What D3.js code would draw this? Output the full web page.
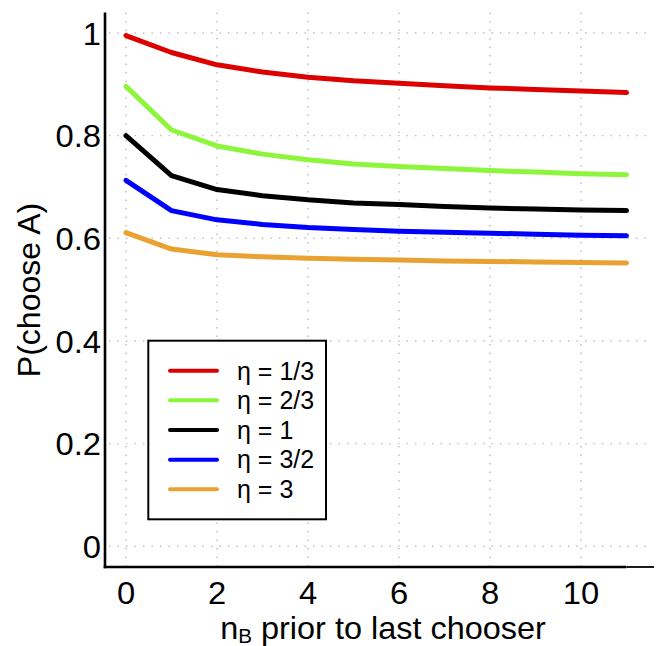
<!DOCTYPE html>
<html>
<head>
<meta charset="utf-8">
<script src="https://cdn.jsdelivr.net/npm/d3@7"></script>
<style>
  html, body { margin: 0; padding: 0; background: #fff; }
  svg { display: block; }
  text { font-family: "Liberation Sans", Arial, Helvetica, sans-serif; fill: #000; }
</style>
</head>
<body>
<svg id="chart" width="658" height="646"></svg>
<script>
// Number of B choices observed before the last chooser
const nB = [0, 1, 2, 3, 4, 5, 6, 7, 8, 9, 10, 11];

// P(choose A) for each noise level eta
const pEta13 = [0.995, 0.962, 0.938, 0.924, 0.914, 0.907, 0.902, 0.897, 0.893, 0.890, 0.887, 0.884];
const pEta23 = [0.896, 0.811, 0.780, 0.764, 0.753, 0.745, 0.740, 0.736, 0.732, 0.729, 0.726, 0.724];
const pEta1  = [0.800, 0.722, 0.695, 0.683, 0.675, 0.669, 0.666, 0.662, 0.659, 0.657, 0.655, 0.654];
const pEta32 = [0.713, 0.654, 0.636, 0.627, 0.621, 0.617, 0.614, 0.612, 0.610, 0.608, 0.606, 0.605];
const pEta3  = [0.611, 0.579, 0.568, 0.564, 0.561, 0.559, 0.558, 0.556, 0.555, 0.554, 0.553, 0.552];

const seriesLabels = ["η = 1/3", "η = 2/3", "η = 1", "η = 3/2", "η = 3"];
const seriesColors = ["#dd0000", "#8cf53c", "#000000", "#0000ff", "#e9a232"];
const seriesValues = [pEta13, pEta23, pEta1, pEta32, pEta3];

const xTicks = [0, 2, 4, 6, 8, 10];
const yTicks = [0, 0.2, 0.4, 0.6, 0.8, 1];

const svg = d3.select("#chart");

const x = d3.scaleLinear().domain([0, 11]).range([126, 626.5]);
const y = d3.scaleLinear().domain([0, 1]).range([546.3, 33]);

const xMin = x.invert(105), xGridMax = x.invert(651);
const yMin = y.invert(567), yMax = y.invert(12.5);

// helper: text with optional horizontal widening
function wideText(sel, px, py, str, size, sx, anchor) {
  return sel.append("text")
    .attr("transform", `translate(${px},${py}) scale(${sx},1)`)
    .attr("font-size", size)
    .attr("text-anchor", anchor)
    .text(str);
}

// dotted grid
const grid = svg.append("g")
  .attr("stroke", "#bdbdbd").attr("stroke-width", 1.4)
  .attr("stroke-dasharray", "1.4,7.1").attr("fill", "none");
grid.selectAll("line.h").data(yTicks).join("line").attr("class", "h")
  .attr("x1", x(xMin) + 4).attr("x2", x(xGridMax))
  .attr("y1", d => y(d)).attr("y2", d => y(d));
grid.selectAll("line.v").data(xTicks).join("line").attr("class", "v")
  .attr("x1", d => x(d)).attr("x2", d => x(d))
  .attr("y1", y(yMax)).attr("y2", y(yMin));

// axes lines
svg.append("line").attr("x1", x(xMin)).attr("x2", x(xMin))
  .attr("y1", y(yMax)).attr("y2", y(yMin) + 1.2)
  .attr("stroke", "#000").attr("stroke-width", 2.6);
svg.append("line").attr("x1", x(xMin) - 1.3).attr("x2", x(11))
  .attr("y1", y(yMin)).attr("y2", y(yMin))
  .attr("stroke", "#000").attr("stroke-width", 2.6);
svg.append("line").attr("x1", x(11)).attr("x2", x(xGridMax) + 3)
  .attr("y1", y(yMin)).attr("y2", y(yMin))
  .attr("stroke", "#000").attr("stroke-width", 1.8);

// tick labels
const xtl = svg.append("g");
xTicks.forEach(t => wideText(xtl, x(t), 604, d3.format("d")(t), 31.5, 1.04, "middle"));
const ytl = svg.append("g");
yTicks.forEach(t => wideText(ytl, 101, y(t) + 11.6, t === 0 || t === 1 ? String(t) : d3.format(".1f")(t), 31.5, 1.04, "end"));

// axis titles
const xl = svg.append("text")
  .attr("transform", "translate(383,639) scale(1.03,1)")
  .attr("font-size", 31.5).attr("text-anchor", "middle");
xl.append("tspan").text("n");
xl.append("tspan").attr("font-size", 20).attr("dy", 4).text("B");
xl.append("tspan").attr("dy", -4).text(" prior to last chooser");

svg.append("text")
  .attr("transform", "translate(40,290) rotate(-90)")
  .attr("font-size", 32).attr("text-anchor", "middle")
  .text("P(choose A)");

// series lines
const line = d3.line().x((d, i) => x(nB[i])).y(d => y(d));
svg.append("g").selectAll("path").data(seriesValues).join("path")
  .attr("d", d => line(d))
  .attr("fill", "none")
  .attr("stroke", (d, i) => seriesColors[i])
  .attr("stroke-width", 5)
  .attr("stroke-linecap", "round").attr("stroke-linejoin", "round");

// legend
const lg = svg.append("g");
lg.append("rect").attr("x", 148.3).attr("y", 340.7).attr("width", 177.7).attr("height", 178.6)
  .attr("fill", "#fff").attr("stroke", "#000").attr("stroke-width", 2);
const legY = d3.scalePoint().domain(seriesLabels).range([370.7, 489.3]);
seriesLabels.forEach((lab, i) => {
  lg.append("line").attr("x1", 170).attr("x2", 217)
    .attr("y1", legY(lab)).attr("y2", legY(lab))
    .attr("stroke", seriesColors[i]).attr("stroke-width", 4).attr("stroke-linecap", "round");
  wideText(lg, 237, legY(lab) + 8.8, lab, 25, 1.0, "start");
});
</script>
</body>
</html>
